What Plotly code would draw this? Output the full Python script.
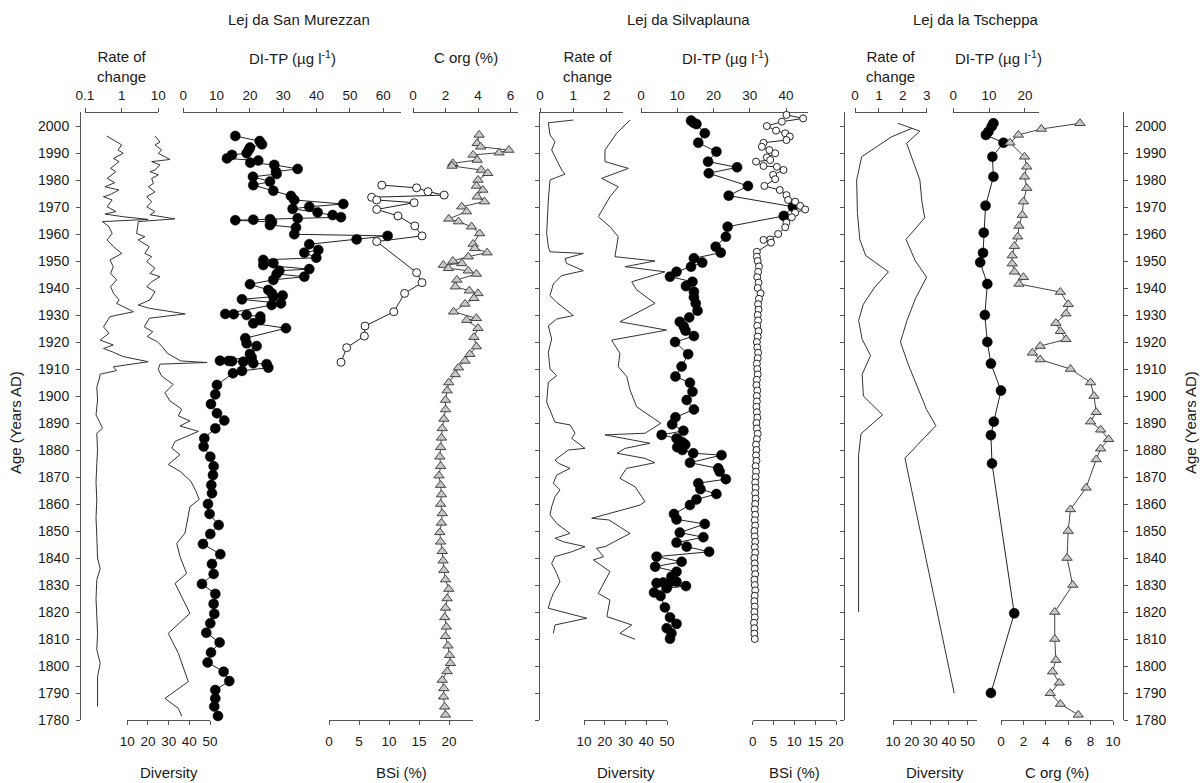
import plotly.graph_objects as go

# ======================= DATA (years AD, values) =======================
# --- Lej da San Murezzan ---
SM_ROC = [(1996.3, 0.39), (1993.0, 1.0), (1991.1, 0.8), (1989.9, 1.1), (1988.0, 0.6), (1986.8, 0.85),
          (1984.3, 0.5), (1983.1, 0.7), (1980.6, 0.4), (1979.0, 0.65), (1977.5, 0.35), (1976.3, 0.85),
          (1974.4, 0.45), (1973.8, 0.32), (1972.6, 0.55), (1970.1, 0.4), (1968.3, 0.7), (1967.4, 0.35),
          (1966.4, 1.1), (1965.4, 5.3), (1964.6, 0.3), (1962.7, 0.45), (1960.2, 0.55), (1957.8, 0.4),
          (1955.3, 0.6), (1952.8, 1.0), (1951.6, 0.7), (1950.4, 0.48), (1947.9, 0.59), (1945.4, 0.5),
          (1943.0, 0.73), (1940.5, 0.5), (1938.0, 0.6), (1935.6, 0.85), (1934.3, 0.73), (1931.2, 2.1),
          (1929.4, 0.48), (1925.6, 0.32), (1923.2, 0.45), (1920.7, 0.26), (1918.9, 0.59), (1917.6, 0.32),
          (1916.4, 0.55), (1914.6, 1.11), (1912.7, 5.3), (1910.8, 0.59), (1909.4, 0.73), (1908.1, 0.26),
          (1905.9, 0.24), (1903.4, 0.21), (1898.5, 0.22), (1893.0, 0.2), (1889.9, 0.26), (1888.0, 0.3),
          (1886.2, 0.21), (1880.0, 0.22), (1875.0, 0.21), (1868.0, 0.2), (1861.5, 0.21), (1855.0, 0.2),
          (1848.0, 0.21), (1840.0, 0.22), (1836.0, 0.26), (1832.0, 0.21), (1825.0, 0.2), (1818.0, 0.21),
          (1812.0, 0.22), (1806.0, 0.21), (1801.0, 0.26), (1796.0, 0.22), (1790.0, 0.22), (1785.0, 0.22)]

SM_DIV = [(1996.3, 23.4), (1994.1, 25.8), (1993.0, 23.4), (1991.1, 26.6), (1989.9, 25.0), (1987.6, 30.6),
          (1986.8, 21.8), (1985.6, 25.8), (1983.7, 23.4), (1983.1, 21.0), (1981.9, 25.0), (1980.6, 21.8),
          (1978.7, 22.6), (1977.5, 20.2), (1975.6, 23.4), (1973.8, 19.4), (1971.9, 21.8), (1970.1, 19.4),
          (1968.3, 23.4), (1967.1, 21.0), (1965.6, 33.0), (1964.6, 15.3), (1962.7, 15.0), (1960.2, 14.5),
          (1959.0, 18.5), (1957.8, 15.3), (1955.3, 20.6), (1952.8, 18.5), (1951.6, 21.8), (1949.8, 19.4),
          (1947.3, 23.4), (1945.4, 21.0), (1944.2, 25.8), (1942.3, 21.8), (1940.5, 19.4), (1938.6, 23.4),
          (1935.6, 21.0), (1933.7, 15.3), (1932.5, 20.6), (1930.4, 38.0), (1928.8, 20.6), (1925.6, 18.2),
          (1923.8, 22.3), (1922.0, 19.7), (1920.1, 24.5), (1918.3, 26.9), (1915.8, 29.4), (1913.0, 35.8),
          (1912.4, 48.6), (1911.8, 25.8), (1909.9, 25.0), (1907.4, 26.6), (1904.3, 32.2), (1901.2, 28.2),
          (1898.2, 30.6), (1895.1, 36.3), (1892.6, 34.7), (1890.8, 40.3), (1888.9, 35.5), (1886.9, 44.4),
          (1883.2, 33.1), (1880.7, 31.5), (1878.3, 35.5), (1874.6, 29.8), (1872.1, 35.5), (1868.4, 40.8),
          (1864.7, 43.2), (1861.7, 44.8), (1859.0, 40.3), (1852.9, 38.7), (1849.2, 37.9), (1845.4, 33.9),
          (1840.5, 35.5), (1834.3, 38.7), (1830.6, 33.1), (1819.5, 40.3), (1812.1, 29.8), (1804.7, 34.7),
          (1801.0, 36.3), (1794.2, 39.5), (1788.0, 28.2), (1784.3, 34.7), (1781.5, 36.3)]

SM_TP = [(1996.3, 15.6), (1994.4, 22.9), (1993.2, 23.6), (1992.0, 20.0), (1991.1, 19.6), (1989.9, 19.0),
         (1989.3, 14.6), (1988.0, 13.1), (1987.2, 22.5), (1986.4, 20.1), (1985.6, 27.3), (1984.1, 34.3),
         (1983.1, 27.8), (1982.2, 28.0), (1981.2, 20.9), (1979.4, 26.0), (1978.1, 21.0), (1976.0, 27.0),
         (1974.1, 32.3), (1972.6, 33.3), (1971.1, 48.0), (1970.1, 37.8), (1969.3, 32.8), (1968.0, 40.3),
         (1967.0, 44.8), (1966.2, 47.3), (1965.8, 34.3), (1965.5, 26.0), (1965.3, 21.0), (1965.1, 15.6),
         (1964.4, 26.6), (1963.3, 26.0), (1962.4, 33.8), (1959.9, 33.3), (1959.3, 61.3), (1958.0, 52.0),
         (1956.2, 37.8), (1954.1, 40.5), (1953.1, 36.3), (1951.2, 39.9), (1950.4, 24.0), (1949.2, 27.0),
         (1948.5, 24.0), (1947.0, 37.8), (1946.4, 28.8), (1945.2, 28.0), (1944.2, 36.3), (1943.0, 27.0),
         (1941.4, 20.0), (1939.3, 25.5), (1938.0, 26.6), (1937.2, 29.8), (1936.8, 27.0), (1935.8, 17.6),
         (1934.3, 29.3), (1933.7, 26.5), (1930.4, 12.6), (1930.3, 15.1), (1930.0, 19.0), (1929.4, 23.1),
         (1928.1, 23.1), (1926.9, 21.0), (1925.1, 30.8), (1921.4, 18.6), (1919.5, 19.0), (1918.5, 22.0),
         (1915.6, 20.0), (1914.3, 20.5), (1913.1, 11.0), (1913.0, 13.6), (1912.9, 14.6), (1912.7, 18.0),
         (1912.1, 21.0), (1911.8, 25.0), (1910.5, 25.5), (1909.3, 17.6), (1908.4, 14.9), (1904.1, 10.1),
         (1900.6, 9.6), (1897.0, 8.3), (1893.6, 10.1), (1890.9, 12.3), (1888.0, 9.6), (1884.3, 6.3),
         (1881.3, 6.1), (1877.5, 8.1), (1874.0, 9.1), (1870.7, 8.9), (1867.0, 8.4), (1864.0, 8.6),
         (1860.0, 7.4), (1856.3, 7.9), (1852.2, 10.6), (1848.9, 8.1), (1845.2, 5.9), (1841.4, 11.1),
         (1837.8, 8.6), (1834.1, 9.1), (1830.4, 5.6), (1826.7, 9.6), (1823.0, 9.1), (1819.3, 9.3),
         (1815.8, 8.1), (1812.3, 6.9), (1808.7, 10.9), (1805.0, 8.3), (1801.3, 7.3), (1797.9, 12.1),
         (1794.4, 13.8), (1791.1, 9.6), (1788.0, 9.6), (1785.0, 9.3), (1781.5, 10.4)]

SM_BSI = [(1978.1, 8.8), (1977.1, 14.6), (1975.7, 16.5), (1974.4, 19.2), (1973.6, 7.1), (1972.6, 7.95),
          (1971.6, 14.2), (1969.1, 7.95), (1966.7, 11.5), (1963.0, 14.3), (1959.3, 15.5), (1957.2, 7.95),
          (1945.7, 14.6), (1942.0, 15.5), (1938.0, 12.6), (1931.2, 10.8), (1925.9, 6.0), (1922.2, 5.9),
          (1917.9, 2.95), (1912.5, 2.0)]

SM_CORG = [(1996.7, 4.07), (1993.6, 3.95), (1992.3, 4.16), (1991.1, 5.9), (1990.1, 5.3), (1989.3, 3.7),
           (1987.4, 3.95), (1986.2, 2.45), (1985.2, 2.4), (1983.7, 4.2), (1982.5, 4.6), (1980.0, 4.0),
           (1977.8, 3.9), (1976.3, 4.3), (1973.8, 3.95), (1972.0, 4.4), (1970.1, 3.0), (1968.3, 3.3),
           (1965.6, 2.2), (1964.6, 2.8), (1962.7, 3.6), (1960.2, 4.1), (1956.3, 3.7), (1954.7, 3.8),
           (1953.1, 4.56), (1951.6, 3.4), (1950.0, 2.45), (1949.1, 3.0), (1948.5, 1.87), (1947.3, 2.18),
           (1946.4, 3.4), (1945.2, 3.9), (1943.0, 2.7), (1940.5, 2.6), (1939.0, 3.46), (1938.0, 4.0),
           (1936.2, 3.75), (1934.1, 3.2), (1931.2, 2.5), (1928.8, 3.9), (1928.1, 3.3), (1925.1, 4.0),
           (1921.8, 3.75), (1918.3, 3.9), (1915.5, 3.5), (1913.0, 3.2), (1910.5, 2.8), (1908.0, 2.6),
           (1905.0, 2.2), (1902.0, 2.1), (1898.5, 2.0), (1895.0, 2.0), (1891.5, 1.9), (1888.0, 1.8),
           (1884.5, 1.75), (1881.0, 1.7), (1877.5, 1.65), (1874.0, 1.7), (1870.5, 1.6), (1867.0, 1.7),
           (1863.5, 1.75), (1860.0, 1.7), (1856.5, 1.8), (1853.0, 1.75), (1849.5, 1.65), (1846.0, 1.7),
           (1842.5, 1.8), (1839.0, 1.85), (1835.5, 1.9), (1832.0, 2.0), (1828.5, 2.2), (1825.0, 2.1),
           (1821.5, 2.0), (1818.0, 1.95), (1814.5, 2.05), (1811.0, 2.0), (1807.5, 2.15), (1804.0, 2.25),
           (1801.0, 2.3), (1798.0, 2.1), (1794.8, 1.8), (1791.7, 1.9), (1788.6, 1.88), (1784.9, 1.95),
           (1781.9, 2.0)]

# --- Lej da Silvaplauna ---
SP_ROC = [(2002.2, 1.0), (2001.2, 0.25), (1996.7, 0.3), (1994.2, 0.45), (1991.1, 0.35), (1983.7, 0.65),
          (1982.2, 0.75), (1980.0, 0.3), (1972.6, 0.25), (1960.3, 0.2), (1955.3, 0.25), (1953.4, 0.3),
          (1952.8, 1.3), (1950.9, 0.75), (1949.1, 0.8), (1946.4, 1.3), (1944.6, 0.65), (1941.5, 0.4),
          (1937.2, 0.3), (1934.7, 0.5), (1929.8, 1.0), (1928.5, 0.5), (1926.0, 0.25), (1921.1, 0.35),
          (1916.2, 0.25), (1910.0, 0.3), (1907.5, 0.5), (1905.1, 0.25), (1897.7, 0.2), (1890.3, 0.45),
          (1889.3, 0.9), (1886.2, 1.05), (1884.3, 0.95), (1880.6, 1.35), (1880.0, 0.85), (1876.3, 0.45),
          (1875.1, 0.55), (1873.2, 0.9), (1870.7, 0.5), (1867.7, 0.4), (1865.2, 0.6), (1862.7, 0.45),
          (1859.0, 0.35), (1856.0, 0.3), (1852.8, 0.5), (1849.1, 0.9), (1847.3, 0.45), (1846.0, 0.7),
          (1844.2, 1.35), (1842.3, 0.95), (1840.5, 0.45), (1838.0, 0.35), (1834.3, 0.5), (1831.2, 0.6),
          (1826.9, 0.4), (1823.8, 0.3), (1821.4, 0.25), (1817.7, 1.4), (1815.2, 0.45), (1812.1, 0.4)]

SP_DIV = [(2002.2, 32.2), (1997.3, 25.7), (1991.1, 20.1), (1986.8, 20.1), (1984.3, 31.4), (1980.6, 18.5),
          (1977.5, 26.5), (1973.8, 22.5), (1966.4, 16.9), (1962.7, 22.5), (1959.0, 26.5), (1951.6, 24.9),
          (1950.0, 44.2), (1947.9, 29.8), (1946.0, 49.0), (1942.3, 33.0), (1939.3, 35.4), (1934.3, 44.2),
          (1927.5, 27.3), (1924.4, 49.8), (1920.7, 23.3), (1915.8, 27.3), (1910.9, 26.5), (1907.2, 30.6),
          (1902.2, 32.2), (1896.0, 35.4), (1889.9, 47.0), (1886.2, 39.4), (1885.6, 20.1), (1882.5, 41.8),
          (1880.6, 29.8), (1878.8, 25.9), (1876.9, 39.4), (1875.3, 44.2), (1873.2, 30.5), (1869.5, 27.3),
          (1866.4, 34.6), (1864.6, 36.2), (1860.9, 39.4), (1859.6, 37.0), (1854.7, 13.7), (1854.1, 22.0),
          (1849.1, 32.2), (1844.2, 20.1), (1843.6, 16.0), (1840.5, 19.5), (1839.3, 14.5), (1835.0, 22.5),
          (1826.9, 16.9), (1824.4, 22.5), (1818.3, 21.0), (1815.2, 33.0), (1812.1, 27.3), (1809.9, 34.6)]

SP_TP = [(2002.0, 13.8), (2001.2, 14.5), (2000.7, 15.3), (1997.3, 17.6), (1993.8, 15.8), (1990.5, 20.8),
         (1986.8, 18.5), (1984.7, 26.5), (1982.5, 18.7), (1977.8, 29.5), (1974.2, 24.2), (1970.1, 41.9),
         (1966.7, 39.4), (1962.7, 23.9), (1959.0, 23.4), (1955.3, 20.6), (1953.1, 22.0), (1951.0, 14.6),
         (1949.4, 16.9), (1947.9, 13.8), (1946.0, 9.8), (1944.2, 8.0), (1942.3, 14.2), (1940.7, 12.4),
         (1938.6, 14.6), (1936.6, 14.6), (1934.3, 15.1), (1931.6, 15.6), (1929.1, 13.3), (1927.5, 10.7),
         (1925.7, 11.8), (1924.2, 12.3), (1922.2, 14.6), (1920.0, 9.4), (1915.5, 13.0), (1910.9, 11.2),
         (1907.2, 9.5), (1904.9, 13.5), (1901.6, 14.2), (1898.5, 12.6), (1895.0, 14.6), (1892.1, 9.5),
         (1889.5, 8.6), (1887.1, 11.7), (1885.6, 5.7), (1884.3, 9.8), (1883.5, 10.5), (1882.8, 11.5),
         (1882.0, 12.2), (1881.0, 10.0), (1880.0, 11.4), (1878.8, 14.4), (1878.1, 22.2), (1875.3, 13.5),
         (1873.2, 21.3), (1872.0, 21.7), (1869.2, 23.4), (1867.7, 15.8), (1865.5, 16.4), (1863.7, 20.8),
         (1861.7, 15.3), (1859.6, 13.5), (1856.3, 9.1), (1854.3, 9.8), (1852.6, 17.6), (1849.4, 10.7),
         (1847.7, 17.2), (1845.7, 9.8), (1844.2, 12.6), (1842.3, 18.8), (1840.5, 4.3), (1838.6, 11.2),
         (1836.8, 3.9), (1834.9, 9.8), (1833.1, 8.4), (1831.2, 9.8), (1831.0, 8.0), (1830.9, 6.1),
         (1830.7, 4.3), (1829.6, 12.4), (1828.8, 7.1), (1827.2, 3.6), (1825.9, 5.4), (1821.7, 6.6),
         (1818.0, 8.0), (1815.6, 9.8), (1814.0, 7.1), (1812.1, 8.4), (1810.1, 8.0)]

SP_BSI = [(2004.1, 8.1), (2002.8, 12.1), (2001.6, 7.0), (2000.0, 3.4), (1998.3, 5.6), (1997.3, 7.8),
          (1996.1, 8.9), (1994.8, 8.1), (1993.8, 2.6), (1992.3, 2.2), (1991.1, 4.0), (1989.9, 5.4),
          (1988.4, 3.4), (1987.4, 4.2), (1986.8, 0.8), (1985.2, 2.6), (1984.9, 5.8), (1983.7, 7.4),
          (1981.9, 4.9), (1980.3, 5.4), (1977.8, 2.8), (1976.3, 6.5), (1974.4, 8.1), (1972.6, 8.5),
          (1972.0, 10.2), (1970.4, 11.4), (1969.1, 12.6), (1967.9, 10.2), (1966.2, 9.4), (1964.2, 8.1),
          (1962.5, 7.8), (1960.0, 6.1), (1958.0, 4.2), (1957.8, 2.6), (1956.8, 4.4), (1953.4, 1.0),
          (1951.6, 1.0), (1950.0, 1.2), (1948.0, 1.5), (1946.0, 1.3), (1944.0, 1.1), (1942.0, 1.4),
          (1940.0, 1.2), (1938.0, 1.9), (1936.0, 1.5), (1934.0, 1.3), (1932.0, 1.4), (1930.0, 1.2),
          (1928.0, 1.3), (1926.0, 1.1), (1924.0, 1.4), (1922.0, 1.2), (1920.0, 1.0), (1918.0, 1.1),
          (1916.0, 1.3), (1914.0, 1.2), (1912.0, 1.0), (1910.0, 1.1), (1908.0, 1.2), (1906.0, 1.0),
          (1904.0, 0.9), (1902.0, 1.1), (1900.0, 1.0), (1898.0, 1.0), (1896.0, 0.9), (1894.0, 1.0),
          (1892.0, 1.1), (1890.0, 0.9), (1888.0, 1.0), (1886.0, 1.2), (1884.0, 1.0), (1882.0, 0.8),
          (1880.0, 0.9), (1878.0, 0.8), (1876.0, 0.9), (1874.0, 0.7), (1872.0, 0.8), (1870.0, 0.7),
          (1868.0, 0.6), (1866.0, 0.7), (1864.0, 0.6), (1862.0, 0.7), (1860.0, 0.6), (1858.0, 0.5),
          (1856.0, 0.6), (1854.0, 0.5), (1852.0, 0.6), (1850.0, 0.4), (1848.0, 0.5), (1846.0, 0.6),
          (1844.0, 0.5), (1842.0, 0.6), (1840.0, 0.4), (1838.0, 0.5), (1836.0, 0.5), (1834.0, 0.6),
          (1832.0, 0.4), (1830.0, 0.5), (1828.0, 0.6), (1826.0, 0.5), (1824.0, 0.4), (1822.0, 0.5),
          (1820.0, 0.4), (1818.0, 0.5), (1816.0, 0.3), (1814.0, 0.4), (1812.0, 0.4), (1810.0, 0.5)]

# --- Lej da la Tscheppa ---
TS_ROC = [(1999.1, 2.37), (1996.0, 1.53), (1988.6, 0.28), (1980.0, 0.07), (1968.0, 0.1), (1958.0, 0.2),
          (1952.0, 0.45), (1946.0, 1.4), (1940.0, 0.8), (1934.0, 0.35), (1928.0, 0.15), (1921.0, 0.3),
          (1915.0, 0.65), (1908.0, 0.3), (1900.0, 0.35), (1893.0, 1.15), (1886.0, 0.25), (1878.0, 0.15),
          (1820.0, 0.15)]

TS_DIV = [(2001.0, 12.7), (1998.1, 24.4), (1993.6, 17.3), (1980.0, 24.4), (1972.0, 25.5), (1966.0, 27.0),
          (1958.0, 17.0), (1950.0, 22.0), (1944.0, 28.0), (1936.0, 22.0), (1928.0, 17.5), (1920.0, 14.0),
          (1912.0, 18.0), (1902.0, 24.0), (1895.0, 28.0), (1889.0, 33.0), (1877.0, 16.4), (1790.0, 42.8)]

TS_TP = [(2001.0, 11.2), (1999.8, 10.7), (1997.9, 9.8), (1996.7, 9.1), (1993.8, 14.0), (1988.6, 10.9),
         (1981.2, 11.2), (1970.5, 9.0), (1960.5, 8.5), (1953.0, 8.3), (1949.5, 7.5), (1941.5, 9.5),
         (1930.0, 8.8), (1920.0, 9.5), (1912.0, 10.5), (1902.0, 13.3), (1890.5, 11.3), (1885.5, 10.5),
         (1875.0, 10.8), (1819.5, 17.0), (1790.0, 10.5)]

TS_CORG = [(2001.0, 7.05), (1998.9, 3.6), (1996.7, 1.55), (1993.8, 0.8), (1988.6, 2.1), (1984.9, 2.3),
           (1981.2, 2.1), (1977.0, 2.3), (1972.0, 2.0), (1967.0, 1.9), (1963.0, 1.6), (1959.0, 1.5),
           (1955.5, 1.2), (1952.0, 1.0), (1949.0, 1.0), (1946.0, 1.2), (1944.0, 2.0), (1941.5, 1.6),
           (1938.5, 5.3), (1934.0, 6.0), (1930.5, 5.8), (1927.0, 4.9), (1924.0, 5.3), (1921.0, 5.8),
           (1918.5, 3.5), (1916.0, 2.8), (1913.5, 3.5), (1910.0, 6.2), (1905.0, 8.0), (1900.0, 8.3),
           (1894.0, 8.5), (1890.5, 8.0), (1887.5, 8.9), (1884.0, 9.6), (1880.5, 8.9), (1876.5, 8.5),
           (1866.0, 7.6), (1858.0, 6.2), (1850.0, 6.0), (1840.0, 5.9), (1830.0, 6.4), (1820.0, 4.8),
           (1810.0, 4.8), (1802.2, 4.9), (1797.9, 4.6), (1793.8, 5.2), (1789.9, 4.4), (1785.9, 5.3),
           (1781.9, 6.9)]

AGE_TICKS = list(range(1780, 2001, 10))

# ======================= LAYOUT GEOMETRY =======================
W, H = 1203, 783
TOP, BOT = 112, 63
PH = H - TOP - BOT
PX_PER_YR = 2.7
Y_RANGE = [1780, 2000 + (126 - TOP) / PX_PER_YR]

FONT = "Liberation Sans, Arial, Helvetica, sans-serif"
AX = "#555555"
TXT = "#1a1a1a"
LINE = "#333333"


def fx(p):
    return p / W


def fy(p):
    return (H - BOT - p) / PH


fig = go.Figure()


def xaxis(p0, p1, rng, side, tickvals, ticktext=None, log=False):
    d = dict(domain=[fx(p0), fx(p1)], range=rng, side=side, anchor="free",
             position=1 if side == "top" else 0,
             showline=True, linecolor=AX, linewidth=1, ticks="outside", ticklen=4,
             tickcolor=AX, tickwidth=1, showgrid=False, zeroline=False,
             tickvals=tickvals, tickfont=dict(size=13.5, color=TXT, family=FONT),
             fixedrange=True, automargin=False, ticklabelstandoff=3 if side == "top" else 5)
    if ticktext is not None:
        d["ticktext"] = ticktext
    if log:
        d["type"] = "log"
    return d


def yaxis(pos, side="left", labels=True, overlay=True):
    d = dict(range=Y_RANGE, domain=[0, 1], anchor="free", position=fx(pos), side=side,
             showline=True, linecolor=AX, linewidth=1, ticks="outside", ticklen=4,
             tickcolor=AX, showgrid=False, zeroline=False, tickvals=AGE_TICKS,
             showticklabels=labels, tickfont=dict(size=14, color=TXT, family=FONT),
             fixedrange=True, automargin=False, ticklabelstandoff=4)
    if overlay:
        d["overlaying"] = "y"
    return d


def unz(pairs):
    return [p[1] for p in pairs], [p[0] for p in pairs]


def add_line(pairs, xa, ya):
    v, yr = unz(pairs)
    fig.add_trace(go.Scatter(x=v, y=yr, xaxis=xa, yaxis=ya, mode="lines",
                             line=dict(color=LINE, width=1), cliponaxis=False))


def add_filled(pairs, xa, ya):
    v, yr = unz(pairs)
    fig.add_trace(go.Scatter(x=v, y=yr, xaxis=xa, yaxis=ya, mode="lines+markers",
                             line=dict(color="#222222", width=1),
                             marker=dict(symbol="circle", size=10, color="black",
                                         line=dict(color="black", width=0.5)),
                             cliponaxis=False))


def add_open(pairs, xa, ya, size=8):
    v, yr = unz(pairs)
    fig.add_trace(go.Scatter(x=v, y=yr, xaxis=xa, yaxis=ya, mode="lines+markers",
                             line=dict(color="#222222", width=1),
                             marker=dict(symbol="circle", size=size, color="white",
                                         line=dict(color="#222222", width=1)),
                             cliponaxis=False))


def add_tri(pairs, xa, ya):
    v, yr = unz(pairs)
    fig.add_trace(go.Scatter(x=v, y=yr, xaxis=xa, yaxis=ya, mode="lines+markers",
                             line=dict(color="#444444", width=1),
                             marker=dict(symbol="triangle-up", size=9, color="#c8c8c8",
                                         line=dict(color="#444444", width=1)),
                             cliponaxis=False))


# --- traces ---
add_line(SM_ROC, "x", "y")
add_line(SM_DIV, "x2", "y")
add_filled(SM_TP, "x3", "y")
add_open(SM_BSI, "x4", "y", 8)
add_tri(SM_CORG, "x5", "y")

add_line(SP_ROC, "x6", "y2")
add_line(SP_DIV, "x7", "y2")
add_open(SP_BSI, "x9", "y2", 7)
add_filled(SP_TP, "x8", "y2")

add_line(TS_ROC, "x10", "y3")
add_line(TS_DIV, "x11", "y3")
add_tri(TS_CORG, "x13", "y4")
add_filled(TS_TP, "x12", "y3")

layout = dict(
    width=W, height=H, template="none", showlegend=False, hovermode=False,
    margin=dict(l=0, r=0, t=TOP, b=BOT, pad=0),
    paper_bgcolor="white", plot_bgcolor="rgba(0,0,0,0)",
    font=dict(family=FONT, color=TXT, size=13),
    xaxis=xaxis(85, 158.3, [-1, 1], "top", [0.1, 1, 10], ["0.1", "1", "10"], log=True),
    xaxis2=xaxis(127.3, 210, [10, 50], "bottom", [10, 20, 30, 40, 50]),
    xaxis3=xaxis(183.3, 400.7, [0, 65.22], "top", [0, 10, 20, 30, 40, 50, 60]),
    xaxis4=xaxis(329, 473, [0, 24], "bottom", [0, 5, 10, 15, 20]),
    xaxis5=xaxis(413, 518.3, [0, 6.48], "top", [0, 2, 4, 6]),
    xaxis6=xaxis(540, 623.3, [0, 2.5], "top", [0, 1, 2]),
    xaxis7=xaxis(584, 667, [10, 50], "bottom", [10, 20, 30, 40, 50]),
    xaxis8=xaxis(641, 808.3, [0, 46.15], "top", [0, 10, 20, 30, 40]),
    xaxis9=xaxis(752.7, 836, [0, 20], "bottom", [0, 5, 10, 15, 20]),
    xaxis10=xaxis(855, 926.7, [0, 3], "top", [0, 1, 2, 3]),
    xaxis11=xaxis(893, 977, [10, 55.04], "bottom", [10, 20, 30, 40, 50]),
    xaxis12=xaxis(953.3, 1039.3, [0, 24], "top", [0, 10, 20]),
    xaxis13=xaxis(1001, 1113, [0, 10], "bottom", [0, 2, 4, 6, 8, 10]),
    yaxis=yaxis(80, overlay=False),
    yaxis2=yaxis(539, labels=False),
    yaxis3=yaxis(843.5, labels=False),
    yaxis4=yaxis(1123.3, side="right"),
)
fig.update_layout(**layout)


def txt(x, y, s, size=14, angle=0):
    fig.add_annotation(x=fx(x), y=fy(y), xref="paper", yref="paper", text=s, showarrow=False,
                       textangle=angle, xanchor="center", yanchor="middle",
                       font=dict(size=size, color=TXT, family=FONT))


# panel titles
txt(299, 19, "Lej da San Murezzan", 15)
txt(688, 19, "Lej da Silvaplauna", 15)
txt(975, 19, "Lej da la Tscheppa", 15)

# top axis titles
TT = 67
for xc in (121.7, 588, 891):
    txt(xc, TT, "Rate of<br>change", 15)
txt(292, 58, "DI-TP (µg l<sup>-1</sup>)", 15)
txt(725, 58, "DI-TP (µg l<sup>-1</sup>)", 15)
txt(998, 58, "DI-TP (µg l<sup>-1</sup>)", 15)
txt(466, 58, "C org (%)", 15)

# bottom axis titles
BT = 772
txt(168.6, BT, "Diversity", 15)
txt(401, BT, "BSi (%)", 15)
txt(625.5, BT, "Diversity", 15)
txt(794.3, BT, "BSi (%)", 15)
txt(935, BT, "Diversity", 15)
txt(1057, BT, "C org (%)", 15)

# age axis titles
txt(15, 423, "Age (Years AD)", 15, -90)
txt(1190, 423, "Age (Years AD)", 15, -90)

fig.write_html("out.html", config={"displayModeBar": False, "staticPlot": True},
               post_script="document.body.style.margin='0px';document.body.style.overflow='hidden';")
